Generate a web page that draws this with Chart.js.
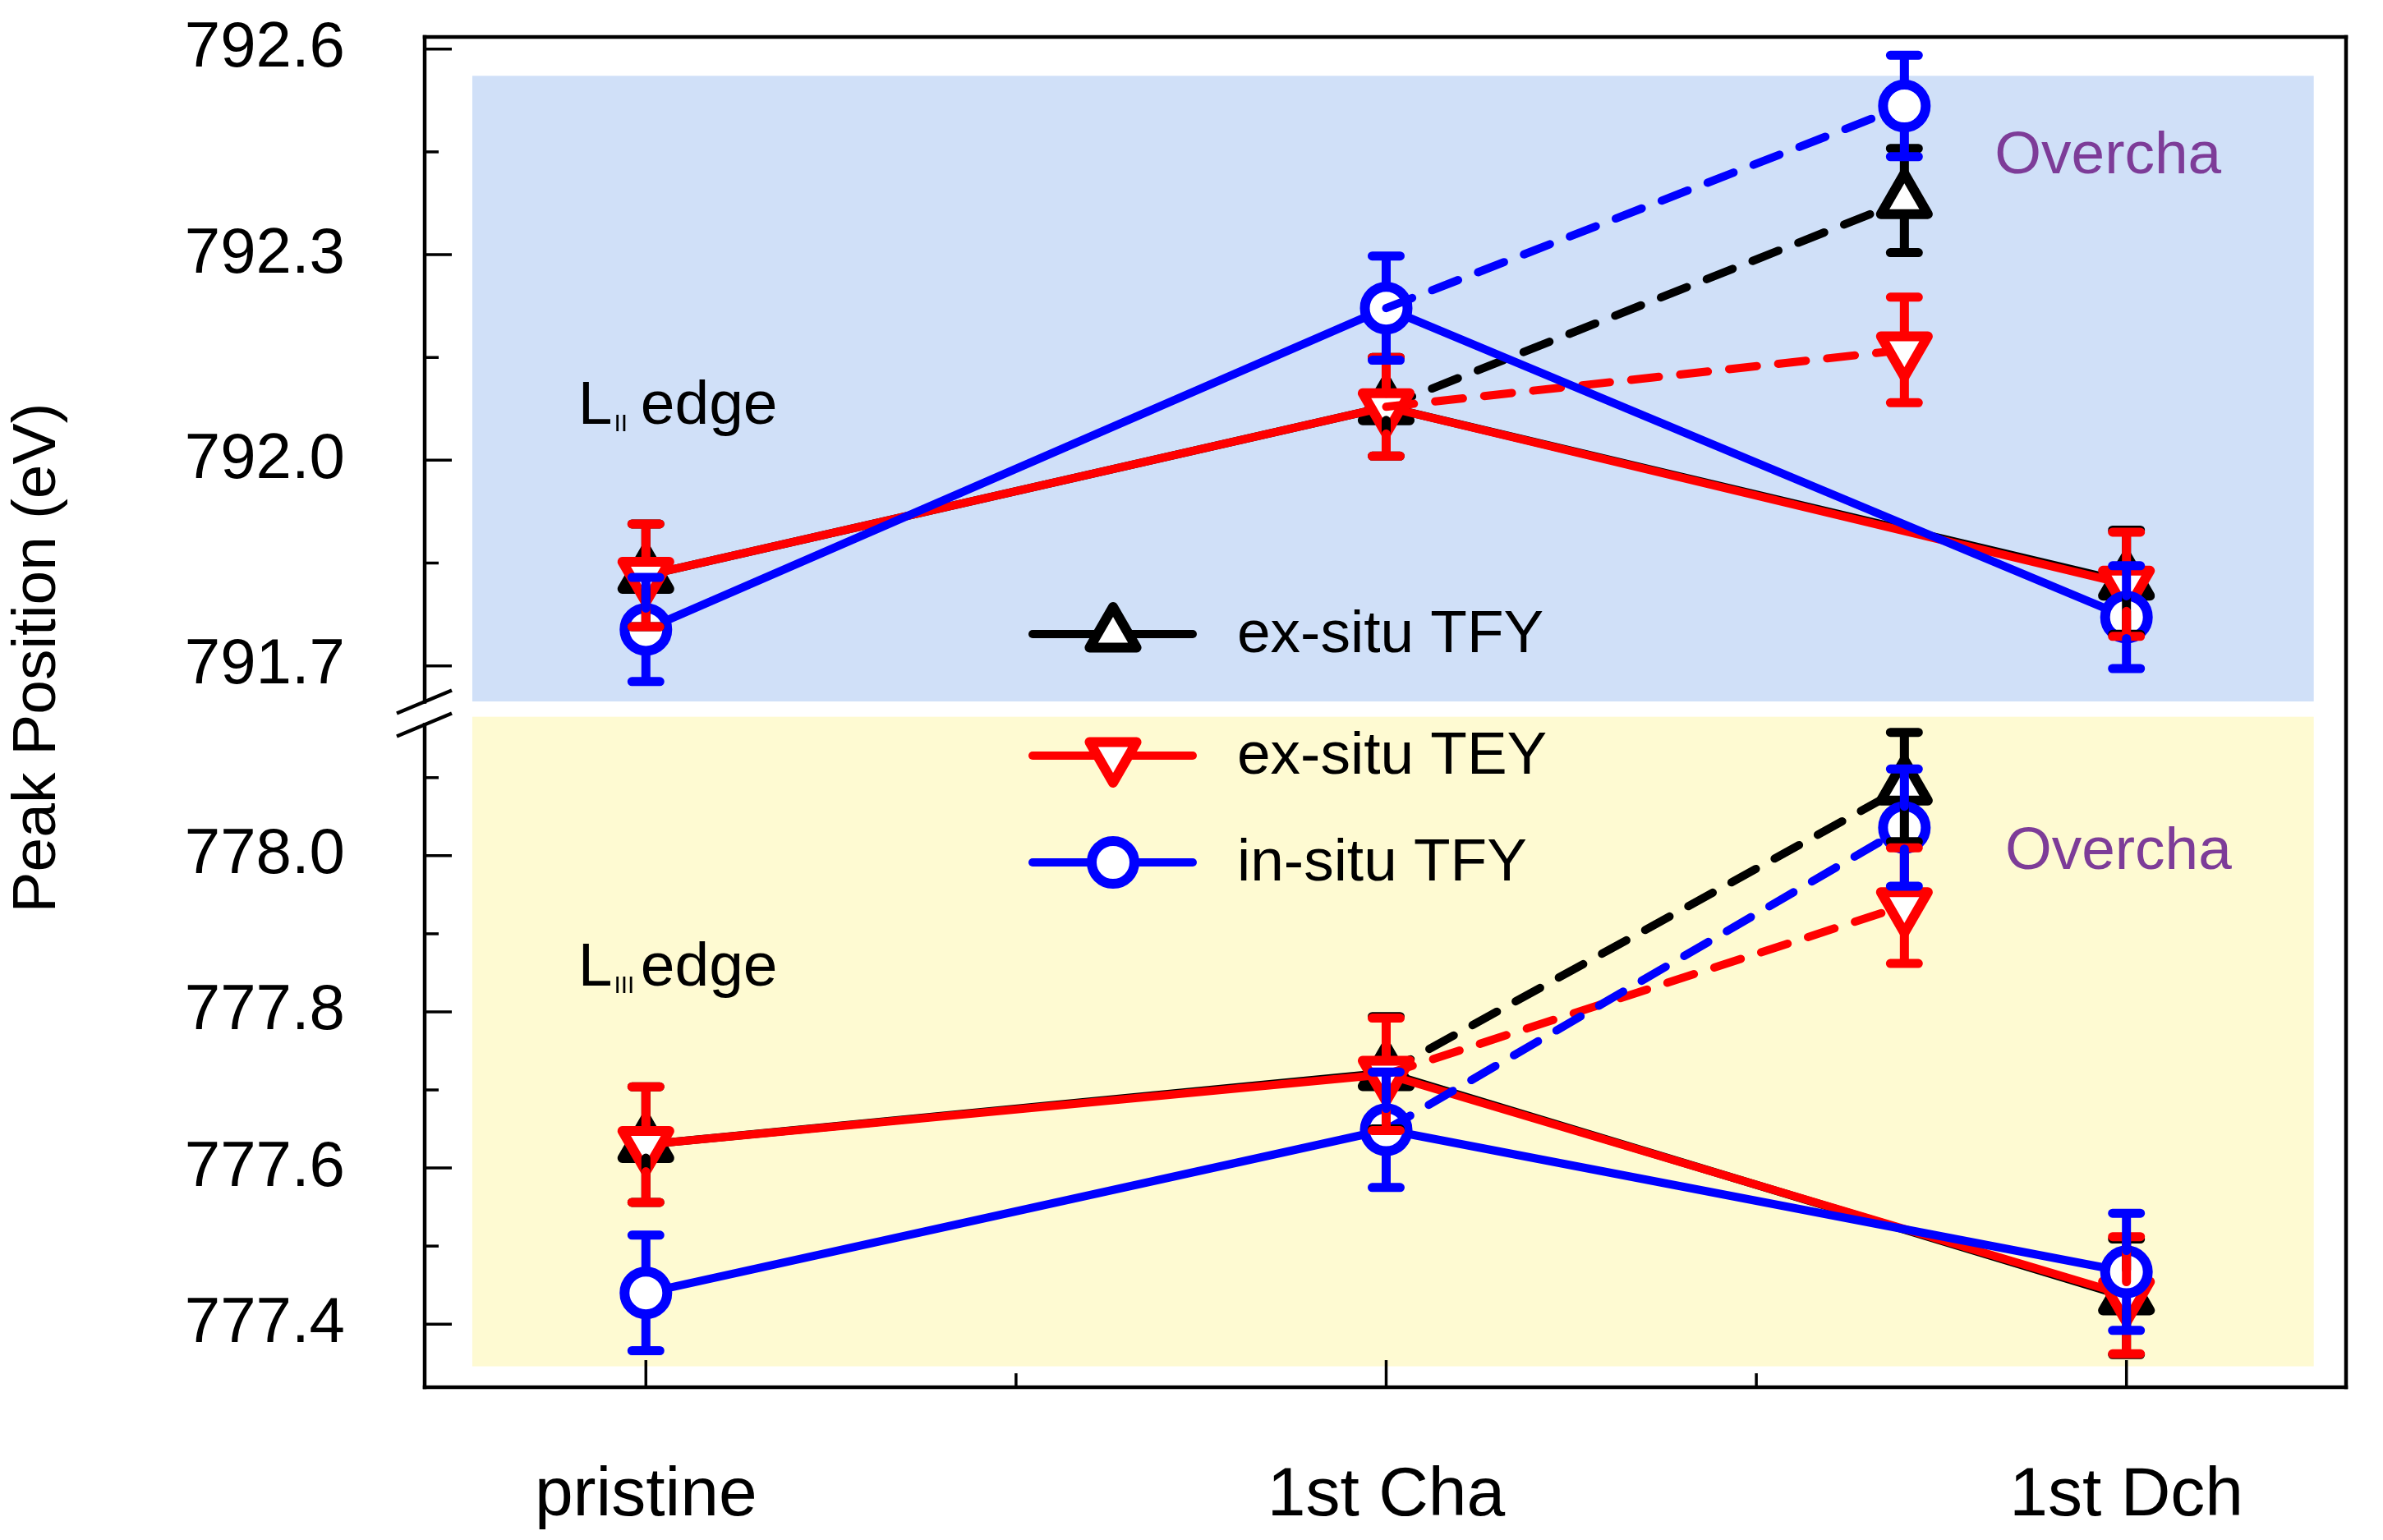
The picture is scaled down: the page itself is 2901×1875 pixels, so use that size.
<!DOCTYPE html>
<html>
<head>
<meta charset="utf-8">
<title>Peak Position</title>
<script src="https://cdn.jsdelivr.net/npm/chart.js@4.4.1/dist/chart.umd.min.js"></script>
<style>
  html, body { margin: 0; padding: 0; background: #fff; }
  #wrap { width: 2901px; height: 1875px; }
</style>
</head>
<body>
<div id="wrap"><canvas id="peakChart" width="2901" height="1875"></canvas></div>
<script>
// peak-position.js

// --- Data ---
const categories = ["pristine", "1st Cha", "1st Dch"];
const categoryX = [0, 1, 2];
const overchargeX = 1.7;

const seriesNames = ["ex-situ TFY", "ex-situ TEY", "in-situ TFY"];

// L_II edge (upper panel): pristine, 1st Cha, 1st Dch
const l2ExTFY = [791.832, 792.078, 791.822];
const l2ExTEY = [791.832, 792.078, 791.819];
const l2InTFY = [791.753, 792.222, 791.771];
const l2ExTFYErr = [0.075, 0.072, 0.076];
const l2ExTEYErr = [0.075, 0.072, 0.076];
const l2InTFYErr = [0.076, 0.076, 0.075];
// L_II overcharge: ex-situ TFY, ex-situ TEY, in-situ TFY
const l2Over = [792.379, 792.161, 792.517];
const l2OverErr = [0.076, 0.077, 0.074];

// L_III edge (lower panel): pristine, 1st Cha, 1st Dch
const l3ExTFY = [777.630, 777.722, 777.435];
const l3ExTEY = [777.630, 777.720, 777.437];
const l3InTFY = [777.440, 777.649, 777.467];
const l3ExTFYErr = [0.074, 0.072, 0.074];
const l3ExTEYErr = [0.074, 0.072, 0.075];
const l3InTFYErr = [0.074, 0.074, 0.075];
// L_III overcharge
const l3Over = [778.088, 777.936, 778.036];
const l3OverErr = [0.070, 0.074, 0.075];

// Axis ticks
const upperTicks = [791.7, 792.0, 792.3, 792.6];
const upperMinorTicks = [791.85, 792.15, 792.45];
const lowerTicks = [777.4, 777.6, 777.8, 778.0];
const lowerMinorTicks = [777.5, 777.7, 777.9, 778.1];
const xMinorTicks = [0.5, 1.5];

// --- Styles ---
const FONT = "'Liberation Sans', Arial, Helvetica, sans-serif";
const seriesColors = ["#000000", "#ff0000", "#0000ff"];
const seriesMarkers = ["triangle", "triangle", "circle"];
const seriesRotation = [0, 180, 0];
const markerRadius = [33, 33, 26];
const overColor = "#7d3c98";

// shaded regions (data coords)
const upperBox = { x0: -0.2345, x1: 2.253, y0: 791.648, y1: 792.561, color: "#d0e0f8" };
const lowerBox = { x0: -0.2345, x1: 2.253, y0: 777.346, y1: 778.178, color: "#fefad2" };

function buildPanel(axisId, values, errors, overValues, overErrors) {
  const sets = [];
  values.forEach((vals, s) => {
    const common = {
      label: seriesNames[s],
      yAxisID: axisId,
      borderColor: seriesColors[s],
      borderWidth: 10,
      borderCapStyle: "round",
      borderJoinStyle: "round",
      pointStyle: seriesMarkers[s],
      pointRotation: seriesRotation[s],
      pointBorderWidth: 12,
      pointBackgroundColor: "#ffffff",
      pointBorderColor: seriesColors[s],
      pointHoverRadius: markerRadius[s],
      showLine: true,
      fill: false,
      seriesIndex: s,
    };
    // solid: pristine -> 1st Cha -> 1st Dch
    sets.push({
      ...common,
      data: categoryX.map((x, i) => ({ x, y: vals[i] })),
      errorBars: errors[s],
      pointRadius: markerRadius[s],
    });
    // dashed: 1st Cha -> overcharge
    sets.push({
      ...common,
      data: [{ x: categoryX[1], y: vals[1] }, { x: overchargeX, y: overValues[s] }],
      errorBars: [null, overErrors[s]],
      borderDash: [34, 26],
      pointRadius: [0, markerRadius[s]],
    });
  });
  return sets;
}

const datasets = [
  ...buildPanel("yU", [l2ExTFY, l2ExTEY, l2InTFY], [l2ExTFYErr, l2ExTEYErr, l2InTFYErr], l2Over, l2OverErr),
  ...buildPanel("yL", [l3ExTFY, l3ExTEY, l3InTFY], [l3ExTFYErr, l3ExTEYErr, l3InTFYErr], l3Over, l3OverErr),
];

// marker edge offsets so error bars start outside the marker
function markerEdges(s) {
  const r = markerRadius[s];
  if (seriesMarkers[s] === "circle") return [r, r];
  return seriesRotation[s] === 0 ? [r, r / 2] : [r / 2, r];
}

// Backgrounds, frame and inward ticks
const framePlugin = {
  id: "frame",
  beforeDatasetsDraw(chart) {
    const { ctx, chartArea: a, scales } = chart;
    const x = scales.x;
    ctx.save();
    [[upperBox, scales.yU], [lowerBox, scales.yL]].forEach(([b, ys]) => {
      const px0 = x.getPixelForValue(b.x0);
      const px1 = x.getPixelForValue(b.x1);
      const py0 = ys.getPixelForValue(b.y1);
      const py1 = ys.getPixelForValue(b.y0);
      ctx.fillStyle = b.color;
      ctx.fillRect(px0, py0, px1 - px0, py1 - py0);
    });

    ctx.strokeStyle = "#000";
    ctx.lineCap = "butt";
    ctx.lineWidth = 3.5;
    const tick = (x0, y0, x1, y1) => {
      ctx.beginPath(); ctx.moveTo(x0, y0); ctx.lineTo(x1, y1); ctx.stroke();
    };
    upperTicks.forEach((v) => { const p = scales.yU.getPixelForValue(v); tick(a.left, p, a.left + 33, p); });
    upperMinorTicks.forEach((v) => { const p = scales.yU.getPixelForValue(v); tick(a.left, p, a.left + 17, p); });
    lowerTicks.forEach((v) => { const p = scales.yL.getPixelForValue(v); tick(a.left, p, a.left + 33, p); });
    lowerMinorTicks.forEach((v) => { const p = scales.yL.getPixelForValue(v); tick(a.left, p, a.left + 17, p); });
    categoryX.forEach((v) => { const p = x.getPixelForValue(v); tick(p, a.bottom, p, a.bottom - 33); });
    xMinorTicks.forEach((v) => { const p = x.getPixelForValue(v); tick(p, a.bottom, p, a.bottom - 17); });

    // frame with a break on the left axis
    const brk = scales.yU.bottom;
    ctx.lineWidth = 4.5;
    ctx.lineCap = "square";
    tick(a.left, a.top, a.right, a.top);
    tick(a.right, a.top, a.right, a.bottom);
    tick(a.left, a.bottom, a.right, a.bottom);
    tick(a.left, a.top, a.left, brk - 14);
    tick(a.left, brk + 14, a.left, a.bottom);
    ctx.lineCap = "butt";
    [brk - 14, brk + 14].forEach((y) => tick(a.left - 34, y + 14, a.left + 33, y - 14));
    ctx.restore();

    ctx.lineJoin = "round";
  },
};

// Error bars, drawn above all markers
const errorBarPlugin = {
  id: "errorBars",
  afterDatasetsDraw(chart) {
    const ctx = chart.ctx;
    ctx.save();
    ctx.lineWidth = 11;
    ctx.lineCap = "round";
    [0, 1, 2].forEach((s) => {
      chart.data.datasets.forEach((ds, di) => {
        if (ds.seriesIndex !== s || !ds.errorBars) return;
        const meta = chart.getDatasetMeta(di);
        const ys = chart.scales[ds.yAxisID];
        const [up, down] = markerEdges(s);
        ctx.strokeStyle = seriesColors[s];
        ds.data.forEach((pt, i) => {
          const err = ds.errorBars[i];
          if (err == null) return;
          const px = meta.data[i].x;
          const py = meta.data[i].y;
          const top = ys.getPixelForValue(pt.y + err);
          const bot = ys.getPixelForValue(pt.y - err);
          ctx.beginPath();
          ctx.moveTo(px, py - up); ctx.lineTo(px, top);
          ctx.moveTo(px - 17, top); ctx.lineTo(px + 17, top);
          ctx.moveTo(px, py + down); ctx.lineTo(px, bot);
          ctx.moveTo(px - 17, bot); ctx.lineTo(px + 17, bot);
          ctx.stroke();
        });
      });
    });
    ctx.restore();
  },
};

// Legend, labels and axis title
const labelsPlugin = {
  id: "labels",
  afterDraw(chart) {
    const { ctx, scales } = chart;
    ctx.save();

    // legend
    const rows = [772, 920, 1050];
    rows.forEach((y, s) => {
      ctx.strokeStyle = seriesColors[s];
      ctx.lineWidth = 10;
      ctx.lineCap = "round";
      ctx.beginPath(); ctx.moveTo(1257, y); ctx.lineTo(1452, y); ctx.stroke();
      ctx.fillStyle = "#fff";
      ctx.lineJoin = "round";
      ctx.lineWidth = 12;
      Chart.helpers.drawPoint(ctx, {
        pointStyle: seriesMarkers[s],
        rotation: seriesRotation[s],
        radius: markerRadius[s],
        borderWidth: 12,
      }, 1355, y);
      ctx.fillStyle = "#000";
      ctx.font = `73px ${FONT}`;
      ctx.textAlign = "left";
      ctx.textBaseline = "alphabetic";
      ctx.fillText(seriesNames[s], 1506, y + 22);
    });

    // edge labels with roman subscripts
    const edgeLabel = (sub, xv, yv, ys) => {
      const x = scales.x.getPixelForValue(xv);
      const y = ys.getPixelForValue(yv);
      ctx.fillStyle = "#000";
      ctx.textAlign = "left";
      ctx.textBaseline = "alphabetic";
      ctx.font = `75px ${FONT}`;
      ctx.fillText("L", x, y);
      const lw = ctx.measureText("L").width;
      ctx.font = `30px ${FONT}`;
      ctx.fillText(sub, x + lw + 2, y + 9);
      ctx.font = `75px ${FONT}`;
      ctx.fillText("edge", x + 76, y);
    };
    edgeLabel("II", -0.0916, 792.053, scales.yU);
    edgeLabel("III", -0.0916, 777.834, scales.yL);

    // overcharge labels
    ctx.fillStyle = overColor;
    ctx.font = `73px ${FONT}`;
    ctx.fillText("Overcha", scales.x.getPixelForValue(1.822), scales.yU.getPixelForValue(792.419));
    ctx.fillText("Overcha", scales.x.getPixelForValue(1.836), scales.yL.getPixelForValue(777.983));

    // y axis title
    ctx.fillStyle = "#000";
    ctx.font = `75px ${FONT}`;
    ctx.translate(46, 801);
    ctx.rotate(-Math.PI / 2);
    ctx.textAlign = "center";
    ctx.textBaseline = "middle";
    ctx.fillText("Peak Position (eV)", 0, 0);
    ctx.restore();
  },
};

function yScale(ticks, min, max, weight) {
  return {
    type: "linear",
    position: "left",
    stack: "peak",
    stackWeight: weight,
    min,
    max,
    grid: { display: false, drawTicks: false },
    border: { display: false },
    afterBuildTicks: (s) => { s.ticks = ticks.map((v) => ({ value: v })); },
    afterFit: (s) => { s.width = 517; s.paddingTop = 0; s.paddingBottom = 0; },
    ticks: {
      color: "#000",
      padding: 97,
      font: { family: FONT, size: 78 },
      callback: (v) => Number(v).toFixed(1),
    },
  };
}

new Chart(document.getElementById("peakChart"), {
  type: "scatter",
  data: { datasets: datasets.slice().reverse() },
  options: {
    responsive: false,
    devicePixelRatio: 1,
    animation: false,
    layout: { padding: { top: 20, right: 4, bottom: 0, left: 0 } },
    plugins: { legend: { display: false }, tooltip: { enabled: false } },
    scales: {
      x: {
        type: "linear",
        min: -0.2988,
        max: 2.2966,
        grid: { display: false, drawTicks: false },
        border: { display: false },
        afterBuildTicks: (s) => { s.ticks = categoryX.map((v) => ({ value: v })); },
        afterFit: (s) => { s.height = 186; s.paddingLeft = 0; s.paddingRight = 0; },
        ticks: {
          color: "#000",
          padding: 82,
          autoSkip: false,
          maxRotation: 0,
          font: { family: FONT, size: 84 },
          callback: (v) => categories[categoryX.indexOf(v)] || "",
        },
      },
      yL: yScale(lowerTicks, 777.3192, 778.1824, 833),
      yU: yScale(upperTicks, 791.6307, 792.6177, 836),
    },
  },
  plugins: [framePlugin, errorBarPlugin, labelsPlugin],
});
</script>
</body>
</html>
